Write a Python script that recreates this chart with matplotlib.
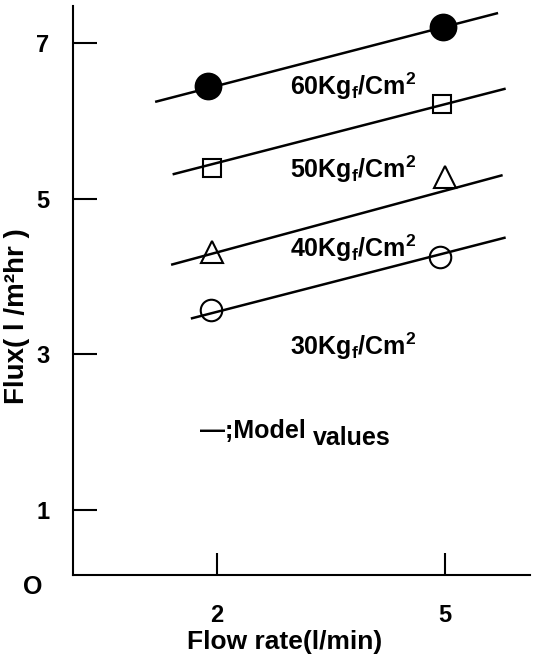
import matplotlib
matplotlib.use("Agg")
import matplotlib.pyplot as plt

plt.rcParams['font.family'] = ['Liberation Sans', 'DejaVu Sans']
plt.rcParams['font.weight'] = 'bold'
plt.rcParams['mathtext.fontset'] = 'custom'
plt.rcParams['mathtext.rm'] = 'Liberation Sans:bold'
plt.rcParams['mathtext.bf'] = 'Liberation Sans:bold'

# measured flux at the two flow rates, per pressure
pressures = ['60', '50', '40', '30']
markers = ['o', 's', '^', 'o']
filled = [True, False, False, False]
meas_x = [[1.88, 4.97], [1.94, 4.96], [1.94, 5.00], [1.92, 4.93]]
meas_y = [[6.44, 7.20], [5.39, 6.21], [4.32, 5.28], [3.57, 4.25]]
marker_sizes = [18.5, 13.5, 15.5, 15.5]

# model lines (start / end points)
model_x = [[1.19, 5.70], [1.42, 5.80], [1.40, 5.76], [1.66, 5.80]]
model_y = [[6.24, 7.38], [5.31, 6.41], [4.15, 5.30], [3.46, 4.50]]

# label anchors for each pressure
label_x = [2.96, 2.96, 2.96, 2.96]
label_y = [6.33, 5.26, 4.25, 2.99]

x_ticks = [2, 5]
y_ticks = [1, 3, 5, 7]

fig = plt.figure(figsize=(5.33, 6.56), dpi=100)
ax = fig.add_axes([73 / 533, 1 - 575 / 656, (530 - 73) / 533, (575 - 6) / 656])

for i in range(len(pressures)):
    ax.plot(model_x[i], model_y[i], color='black', lw=1.8, solid_capstyle='butt')
    face = 'black' if filled[i] else 'none'
    ax.plot(meas_x[i], meas_y[i], linestyle='none', marker=markers[i],
            markersize=marker_sizes[i], markerfacecolor=face,
            markeredgecolor='black', markeredgewidth=1.5)
    ax.text(label_x[i], label_y[i],
            pressures[i] + r'Kg$_\mathregular{f}$/Cm$^\mathregular{2}$',
            fontsize=18, fontweight='bold', va='baseline', ha='left')

ax.text(1.78, 1.93, '—;Model', fontsize=18, fontweight='bold', va='baseline', ha='left')
ax.text(3.26, 1.84, 'values', fontsize=18, fontweight='bold', va='baseline', ha='left')

ax.set_xlim(0.11, 6.12)
ax.set_ylim(0.17, 7.47)
ax.set_xticks(x_ticks)
ax.set_yticks(y_ticks)
ax.set_xticklabels([str(v) for v in x_ticks], fontsize=17, fontweight='bold')
ax.set_yticklabels([str(v) for v in y_ticks], fontsize=17, fontweight='bold')
ax.tick_params(axis='y', direction='in', length=17, width=1.5, pad=17)
ax.tick_params(axis='x', direction='in', length=16, width=1.5, pad=21)

for side in ['top', 'right']:
    ax.spines[side].set_visible(False)
for side in ['left', 'bottom']:
    ax.spines[side].set_linewidth(1.5)

# origin label
ax.text(-0.42, 0.02, 'O', fontsize=18, fontweight='bold', ha='center', va='center',
        transform=ax.transData, clip_on=False)

ax.set_xlabel('Flow rate(l/min)', fontsize=19, fontweight='bold')
ax.xaxis.set_label_coords((285 - 73) / (530 - 73), -(642 - 575) / (575 - 6))
ax.set_ylabel('Flux( l /m²hr )', fontsize=20, fontweight='bold')
ax.yaxis.set_label_coords(-(73 - 17) / (530 - 73), (575 - 316) / (575 - 6))
ax.yaxis.label.set_va('center')
ax.xaxis.label.set_va('center')

fig.savefig('out.png', dpi=100, facecolor='white')
